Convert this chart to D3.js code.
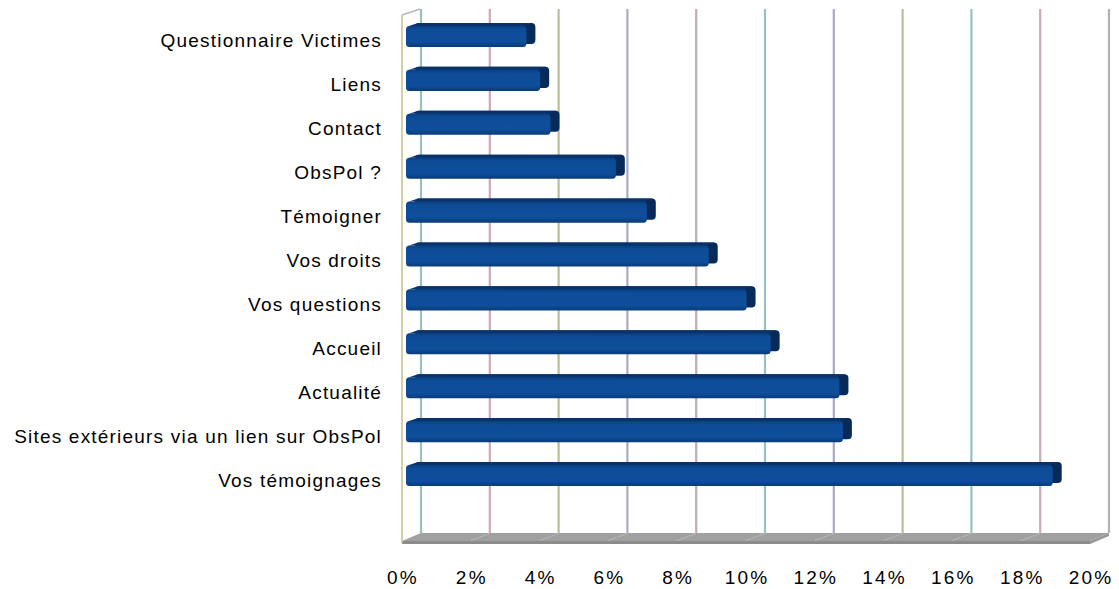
<!DOCTYPE html>
<html>
<head>
<meta charset="utf-8">
<script src="https://cdn.jsdelivr.net/npm/d3@7"></script>
<style>
  html, body { margin: 0; padding: 0; background: #ffffff; }
  svg { display: block; }
  text { font-family: "Liberation Sans", Arial, sans-serif; fill: #000; }
</style>
</head>
<body>
<svg id="chart" width="1119" height="589"></svg>
<script>
// ---- data ----
const categories = [
  "Questionnaire Victimes",
  "Liens",
  "Contact",
  "ObsPol ?",
  "Témoigner",
  "Vos droits",
  "Vos questions",
  "Accueil",
  "Actualité",
  "Sites extérieurs via un lien sur ObsPol",
  "Vos témoignages"
];
const values = [3.5, 3.9, 4.2, 6.1, 7.0, 8.8, 9.9, 10.6, 12.6, 12.7, 18.8];
const tickValues = [0, 2, 4, 6, 8, 10, 12, 14, 16, 18, 20];
const tickLabels = ["0%", "2%", "4%", "6%", "8%", "10%", "12%", "14%", "16%", "18%", "20%"];

// ---- styles ----
const gridColors = ["#95c2bf", "#c9aabd", "#bbbb9e", "#aaaac8", "#c5a8b6", "#95c2bf",
                    "#aaaac8", "#bbbb9e", "#95c2bf", "#c9aabd", "#b2b2b2"];

const svg = d3.select("#chart");
const defs = svg.append("defs");

// 3D geometry
const depthY = -8;
const floorBackY = 533, wallTopY = 9;
const xBack  = d3.scaleLinear().domain([0, 20]).range([421, 1109]);
const xFront = d3.scaleLinear().domain([0, 20]).range([402, 1090]);
const xBar   = d3.scaleLinear().domain([0, 20]).range([406, 1094]);
const y = d3.scaleBand().domain(categories).range([4, 508]).paddingInner(0.52).paddingOuter(0.5);

// gradients
const gFront = defs.append("linearGradient").attr("id", "gFront").attr("x1", 0).attr("y1", 0).attr("x2", 0).attr("y2", 1);
gFront.append("stop").attr("offset", "0%").attr("stop-color", "#0a3f82");
gFront.append("stop").attr("offset", "18%").attr("stop-color", "#0d4d98");
gFront.append("stop").attr("offset", "75%").attr("stop-color", "#0e4e9a");
gFront.append("stop").attr("offset", "100%").attr("stop-color", "#0a3b78");
const gCap = defs.append("linearGradient").attr("id", "gCap").attr("x1", 0).attr("y1", 0).attr("x2", 1).attr("y2", 0);
gCap.append("stop").attr("offset", "0%").attr("stop-color", "#0b3a74");
gCap.append("stop").attr("offset", "100%").attr("stop-color", "#082a58");

// ---- back wall gridlines ----
svg.append("g").selectAll("line").data(tickValues).join("line")
  .attr("x1", d => xBack(d)).attr("x2", d => xBack(d))
  .attr("y1", wallTopY).attr("y2", floorBackY)
  .attr("stroke", (d, i) => gridColors[i])
  .attr("stroke-width", 2.2);

// ---- floor ----
const floorFrontY = floorBackY - depthY; // 541
svg.append("path")
  .attr("d", `M${xBack(0)},${floorBackY} L${xBack(20)},${floorBackY} L${xFront(20)},${floorFrontY} L${xFront(0)},${floorFrontY} Z`)
  .attr("fill", "#a0a0a0");
svg.append("path")
  .attr("d", `M${xFront(0)},${floorFrontY} L${xFront(20)},${floorFrontY} L${xFront(20)},${floorFrontY + 3} L${xFront(0)},${floorFrontY + 3} Z`)
  .attr("fill", "#8c8c8c");
svg.append("path")
  .attr("d", `M${xBack(20)},${floorBackY} L${xBack(20)},${floorBackY + 3} L${xFront(20)},${floorFrontY + 3} L${xFront(20)},${floorFrontY} Z`)
  .attr("fill", "#989898");
svg.append("g").selectAll("line").data(tickValues.slice(1, -1)).join("line")
  .attr("x1", d => xBack(d)).attr("y1", floorBackY + 0.5)
  .attr("x2", d => xFront(d)).attr("y2", floorFrontY - 0.5)
  .attr("stroke", "#c4c4c4").attr("stroke-width", 1).attr("stroke-dasharray", "2,1");

// ---- left wall edge ----
svg.append("line")
  .attr("x1", xFront(0)).attr("x2", xFront(0))
  .attr("y1", wallTopY - depthY - 2).attr("y2", floorFrontY + 2)
  .attr("stroke", "#cbc48e").attr("stroke-width", 1.6);
svg.append("line")
  .attr("x1", xFront(0)).attr("y1", wallTopY - depthY - 2)
  .attr("x2", xBack(0) - 1).attr("y2", wallTopY)
  .attr("stroke", "#b8b8b8").attr("stroke-width", 1.6);

// ---- bars ----
const bx = 9, by = -3;
const bars = svg.append("g").selectAll("g").data(values).join("g");
bars.append("rect")
  .attr("x", xBar(0) + bx)
  .attr("y", (d, i) => y(categories[i]) + by)
  .attr("width", d => xBar(d) - xBar(0))
  .attr("height", y.bandwidth())
  .attr("rx", 4)
  .attr("fill", "url(#gCap)");
bars.append("path")
  .attr("d", (d, i) => {
    const t = y(categories[i]);
    return `M${xBar(0) + 3},${t} L${xBar(0) + 3 + bx},${t + by} L${xBar(d) + bx - 3},${t + by} L${xBar(d) - 3},${t} Z`;
  })
  .attr("fill", "#0a336b");
bars.append("rect")
  .attr("x", xBar(0))
  .attr("y", (d, i) => y(categories[i]))
  .attr("width", d => xBar(d) - xBar(0))
  .attr("height", y.bandwidth())
  .attr("rx", 3.5)
  .attr("fill", "url(#gFront)");

// ---- category labels ----
svg.append("g").selectAll("text").data(categories).join("text")
  .attr("x", 382)
  .attr("y", d => y(d) + y.bandwidth() / 2 + 11)
  .attr("text-anchor", "end")
  .attr("font-size", 19)
  .attr("letter-spacing", "1.2px")
  .text(d => d);

// ---- value axis labels ----
svg.append("g").selectAll("text").data(tickValues).join("text")
  .attr("x", (d, i) => xFront(d) + 1)
  .attr("y", 584)
  .attr("text-anchor", "middle")
  .attr("font-size", 19)
  .attr("letter-spacing", "2.2px")
  .text((d, i) => tickLabels[i]);
</script>
</body>
</html>
